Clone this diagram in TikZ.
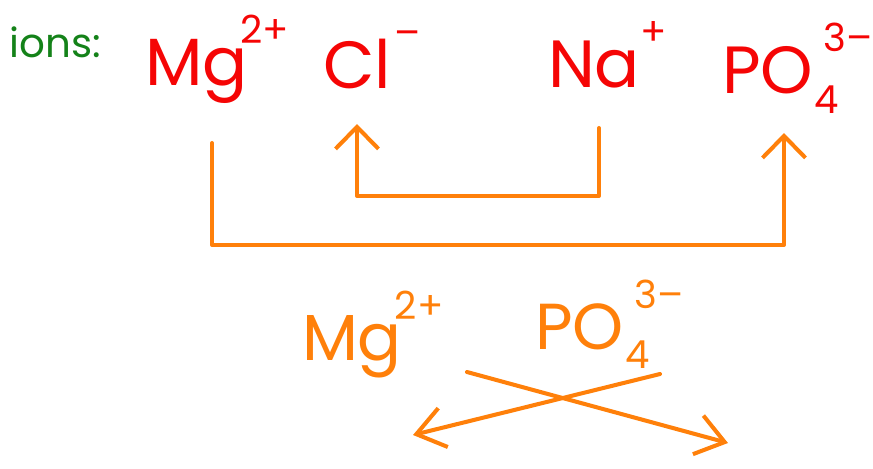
\documentclass[tikz,border=0pt]{standalone}
\usepackage{fontspec}
\setmainfont{Poppins}
\usetikzlibrary{arrows.meta}
\definecolor{inkred}{RGB}{245,5,5}
\definecolor{inkorange}{RGB}{255,128,10}
\definecolor{labelgreen}{RGB}{20,130,25}
\newcommand{\chg}[1]{\raisebox{0.62em}{\fontsize{22}{22}\selectfont #1}}
\newcommand{\sbs}[1]{\raisebox{-0.3em}{\fontsize{22}{22}\selectfont #1}}
\begin{document}
\begin{tikzpicture}[
		x=0.02cm, y=-0.02cm,
		every node/.style={inner sep=0pt, outer sep=0pt},
		ion/.style={anchor=base west, text=inkred, font=\fontsize{38}{38}\selectfont},
		pair/.style={anchor=base west, text=inkorange, font=\fontsize{37}{37}\selectfont},
		link/.style={draw=inkorange, line width=2.3pt, line cap=round, line join=round},
		head/.style={-{Straight Barb[length=0.44cm, width=0.86cm, line width=2.3pt]}},
		crosshead/.style={-{Straight Barb[length=0.55cm, width=0.8cm, line width=2.3pt]}}
		]
		\useasboundingbox (0,0) rectangle (873,468);
		
		% Label
		\node[anchor=base west, text=labelgreen, font=\fontsize{23}{23}\selectfont] (lbl) at (10,57) {ions:};
		
		% Ions in the top row
		\node[ion] (mg) at (145,85) {Mg\kern-4pt\chg{2+}};
		\node[ion] (cl) at (323,88) {Cl\kern2pt\chg{–}};
		\node[ion] (na) at (548,87) {Na\chg{+}};
		\node[ion] (po) at (722,93) {PO\kern1pt\rlap{\sbs{4}}\kern5pt\chg{3–}};
		
		% Points where the arrows start and end
		\coordinate (na-out) at (599,128);
		\coordinate (cl-in) at (357,124);
		\coordinate (mg-out) at (212,143);
		\coordinate (po-in) at (784,133);
		
		% Swap arrows
		\draw[link, head] (na-out) -- ++(0,68) -| (cl-in);
		\draw[link, head] (mg-out) -- ++(0,102) -| (po-in);
		
		% New pair
		\node[pair] (mg2) at (302,360) {Mg\kern-4pt\chg{2+}};
		\node[pair] (po2) at (535,349) {PO\kern1pt\rlap{\sbs{4}}\kern5pt\chg{3–}};
		
		% Crossing arrows
		\coordinate (mg2-out) at (467,372);
		\coordinate (po2-in) at (728,443);
		\coordinate (po2-out) at (660,374);
		\coordinate (mg2-in) at (413,435);
		\draw[link, crosshead] (mg2-out) -- (po2-in);
		\draw[link, crosshead] (po2-out) -- (mg2-in);
		
	\end{tikzpicture}
\end{document}
